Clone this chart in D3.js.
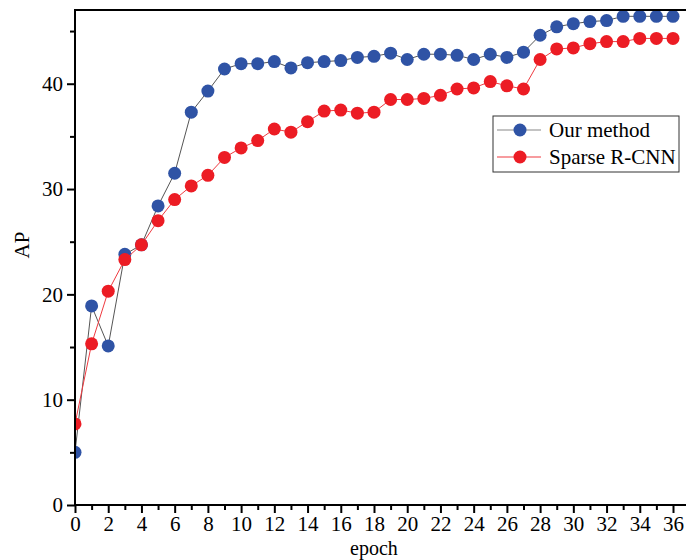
<!DOCTYPE html>
<html>
<head>
<meta charset="utf-8">
<script src="https://cdn.jsdelivr.net/npm/d3@7"></script>
<style>
  body { margin: 0; background: #fff; }
</style>
</head>
<body>
<div id="root"></div>
<script>
let epochs = d3.range(0, 37);

let ourMethod = [
    5.0, 18.9, 15.1, 23.8, 24.7, 28.4, 31.5, 37.3, 39.3, 41.4,
    41.9, 41.9, 42.1, 41.5, 42.0, 42.1, 42.2, 42.5, 42.6, 42.9,
    42.3, 42.8, 42.8, 42.7, 42.3, 42.8, 42.5, 43.0, 44.6, 45.4,
    45.7, 45.9, 46.0, 46.4, 46.4, 46.4, 46.4
];

let sparseRCNN = [
    7.7, 15.3, 20.3, 23.3, 24.7, 27.0, 29.0, 30.3, 31.3, 33.0,
    33.9, 34.6, 35.7, 35.4, 36.4, 37.4, 37.5, 37.2, 37.3, 38.5,
    38.5, 38.6, 38.9, 39.5, 39.6, 40.2, 39.8, 39.5, 42.3, 43.3,
    43.4, 43.8, 44.0, 44.0, 44.3, 44.3, 44.3
];

let seriesNames = ['Our method', 'Sparse R-CNN'];
let xTicks = d3.range(0, 37, 2);
let yTicks = [0, 10, 20, 30, 40];

let series = [
    { name: seriesNames[0], values: ourMethod, fill: '#2f53a5', stroke: '#555555', legendStroke: '#888888' },
    { name: seriesNames[1], values: sparseRCNN, fill: '#ec1c24', stroke: '#ef3a40', legendStroke: '#ef3a40' }
];

const FONT = '"Liberation Serif", "Times New Roman", Times, serif';

let width = 686, height = 560;
let plotLeft = 75, plotRight = 686, plotTop = 10, plotBottom = 505;

let x = d3.scaleLinear().domain([0, 36]).range([plotLeft, 673]);
let y = d3.scaleLinear().domain([0, 47]).range([plotBottom, plotTop]);

let svg = d3.select('#root').append('svg')
    .attr('width', width)
    .attr('height', height)
    .style('font-family', FONT);

svg.append('defs').append('clipPath')
    .attr('id', 'plot')
    .append('rect')
    .attr('x', plotLeft)
    .attr('y', plotTop)
    .attr('width', plotRight - plotLeft)
    .attr('height', plotBottom - plotTop);

// lines + markers
let plot = svg.append('g').attr('clip-path', 'url(#plot)');

series.forEach(s => {
    let line = d3.line()
        .x((d, i) => x(epochs[i]))
        .y(d => y(d));

    plot.append('path')
        .datum(s.values)
        .attr('d', line)
        .attr('fill', 'none')
        .attr('stroke', s.stroke)
        .attr('stroke-width', 1);

    plot.selectAll(null)
        .data(s.values)
        .enter()
        .append('circle')
        .attr('cx', (d, i) => x(epochs[i]))
        .attr('cy', d => y(d))
        .attr('r', 6.5)
        .attr('fill', s.fill);
});

// axes
let xAxis = d3.axisBottom(x)
    .tickValues(xTicks)
    .tickSize(8)
    .tickPadding(3)
    .tickFormat(d3.format('d'));

let xMinor = d3.axisBottom(x)
    .tickValues(d3.range(1, 37, 2))
    .tickSize(5)
    .tickFormat('');

let yAxis = d3.axisLeft(y)
    .tickValues(yTicks)
    .tickSize(8)
    .tickPadding(4)
    .tickFormat(d3.format('d'));

let yMinor = d3.axisLeft(y)
    .tickValues([5, 15, 25, 35, 45])
    .tickSize(5)
    .tickFormat('');

function styleAxis(g) {
    g.attr('font-family', null).attr('font-size', null);
    g.select('.domain').remove();
    g.selectAll('line').attr('stroke', '#000').attr('stroke-width', 2);
    g.selectAll('text')
        .style('font-family', FONT)
        .style('font-size', '21px')
        .attr('fill', '#000');
}

[xAxis, xMinor].forEach(a => {
    svg.append('g')
        .attr('transform', `translate(0,${plotBottom})`)
        .call(a)
        .call(styleAxis);
});

[yAxis, yMinor].forEach(a => {
    svg.append('g')
        .attr('transform', `translate(${plotLeft},0)`)
        .call(a)
        .call(styleAxis);
});

// frame: left, bottom and top (right edge is cropped)
svg.append('path')
    .attr('d', `M${plotRight},${plotTop}H${plotLeft}V${plotBottom}H${plotRight}`)
    .attr('fill', 'none')
    .attr('stroke', '#000')
    .attr('stroke-width', 2);

// axis titles
svg.append('text')
    .attr('x', x(18))
    .attr('y', 555)
    .attr('text-anchor', 'middle')
    .style('font-size', '20px')
    .text('epoch');

svg.append('text')
    .attr('transform', 'translate(29,245) rotate(-90)')
    .attr('text-anchor', 'middle')
    .style('font-size', '21px')
    .text('AP');

// legend
let legend = svg.append('g').attr('transform', 'translate(493,116)');

legend.append('rect')
    .attr('width', 186)
    .attr('height', 56)
    .attr('fill', '#fff')
    .attr('stroke', '#333')
    .attr('stroke-width', 1);

series.forEach((s, i) => {
    let row = legend.append('g').attr('transform', `translate(0,${14 + i * 27})`);
    row.append('line')
        .attr('x1', 4)
        .attr('x2', 48)
        .attr('stroke', s.legendStroke)
        .attr('stroke-width', 1.2);
    row.append('circle')
        .attr('cx', 27)
        .attr('r', 6.5)
        .attr('fill', s.fill);
    row.append('text')
        .attr('x', 56)
        .attr('dy', '0.35em')
        .style('font-size', '21px')
        .text(s.name);
});
</script>
</body>
</html>
